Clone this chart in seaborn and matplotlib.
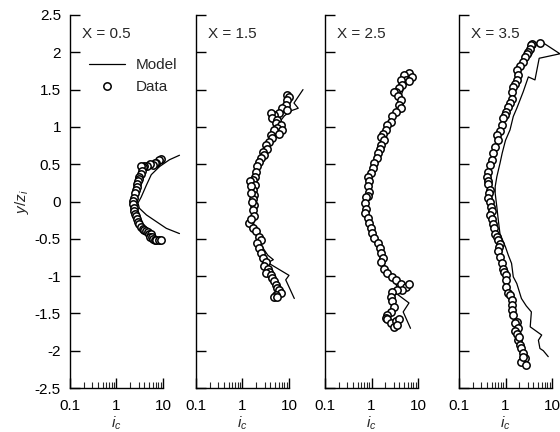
import numpy as np
import pandas as pd
import matplotlib
matplotlib.use("Agg")
import matplotlib.pyplot as plt
import seaborn as sns
from matplotlib.ticker import FixedLocator, FuncFormatter, LogLocator, NullFormatter, MultipleLocator
from matplotlib.lines import Line2D

# ---------------- data ----------------
panel_titles = ["X = 0.5", "X = 1.5", "X = 2.5", "X = 3.5"]
x_tick_vals = [0.1, 1, 10]
x_tick_labels = ["0.1", "1", "10"]

# X = 0.5
data_x_05 = [9.2, 8.2, 7.2, 6.6, 6.1, 5.2, 4.6, 4.0, 3.7, 3.4, 3.6, 3.3, 3.1, 3.0, 2.9, 2.8, 2.7, 2.6,
             2.5, 2.35, 2.3, 2.3, 2.35, 2.4, 2.5, 2.6, 2.7, 2.9, 3.1, 3.4, 3.7, 4.0, 4.4, 4.7, 5.1,
             5.6, 5.2, 5.8, 6.1, 6.6, 7.2, 8.2, 9.2]
data_y_05 = [0.57, 0.55, 0.52, 0.51, 0.49, 0.50, 0.48, 0.47, 0.46, 0.47, 0.41, 0.37, 0.33, 0.30, 0.27,
             0.23, 0.20, 0.15, 0.11, 0.05, 0.01, -0.04, -0.09, -0.13, -0.17, -0.20, -0.23, -0.27,
             -0.30, -0.34, -0.37, -0.38, -0.39, -0.41, -0.43, -0.44, -0.48, -0.47, -0.50, -0.51,
             -0.52, -0.52, -0.52]
model_x_05 = [22.6, 13.8, 8.5, 5.6, 4.4, 3.4, 2.9, 3.1, 4.4, 7.2, 11.8, 22.6]
model_y_05 = [0.62, 0.56, 0.47, 0.36, 0.22, 0.06, -0.02, -0.09, -0.18, -0.27, -0.36, -0.43]

# X = 1.5
data_x_15 = [9.2, 10.0, 9.0, 8.5, 7.2, 9.2, 6.1, 4.8, 4.1, 4.4, 5.6, 5.2, 6.6, 5.6, 7.2, 4.8, 6.1, 4.1,
             4.4, 3.7, 3.2, 3.4, 2.7, 2.9, 2.5, 2.3, 2.1, 2.0, 1.85, 1.65, 1.45, 1.85, 1.65, 1.5,
             1.8, 1.65, 1.55, 1.8, 1.65, 1.6, 1.8, 1.4, 1.5, 1.65, 2.0, 2.3, 2.5, 2.1, 2.3, 2.5,
             2.7, 3.2, 2.9, 3.5, 3.7, 3.2, 4.1, 4.4, 4.8, 5.2, 5.6, 6.1, 6.6, 5.2, 4.8, 5.6]
data_y_15 = [1.43, 1.40, 1.36, 1.29, 1.25, 1.23, 1.18, 1.16, 1.18, 1.12, 1.09, 1.05, 1.03, 0.98, 0.96,
             0.96, 0.91, 0.89, 0.85, 0.80, 0.76, 0.71, 0.67, 0.63, 0.58, 0.53, 0.47, 0.40, 0.33,
             0.29, 0.27, 0.22, 0.16, 0.21, 0.09, 0.04, 0.12, -0.05, -0.11, 0.00, -0.20, -0.29,
             -0.24, -0.36, -0.40, -0.47, -0.52, -0.56, -0.63, -0.69, -0.76, -0.81, -0.87, -0.90,
             -0.94, -0.96, -0.99, -1.03, -1.07, -1.12, -1.16, -1.19, -1.23, -1.25, -1.28, -1.28]
model_x_15 = [20, 12.8, 15.8, 11.5, 8, 6, 5, 3.8, 3, 2.4, 2, 1.75, 1.6, 1.55, 1.6, 1.75, 2.1, 2.6,
              3.5, 4.6, 3.5, 10, 8.5, 13]
model_y_15 = [1.5, 1.32, 1.25, 1.22, 1.15, 1.05, 0.95, 0.85, 0.75, 0.6, 0.45, 0.3, 0.15, 0.0, -0.15,
              -0.3, -0.45, -0.6, -0.72, -0.78, -0.82, -0.99, -1.05, -1.3]

# X = 2.5
data_x_25 = [6.4, 7.6, 5.0, 5.5, 4.3, 6.4, 4.6, 3.9, 3.4, 3.1, 3.7, 4.3, 3.9, 4.3, 3.4, 2.8, 2.6, 2.2,
             2.1, 1.75, 1.6, 1.9, 1.6, 1.5, 1.37, 1.3, 1.16, 1.1, 0.98, 0.83, 0.88, 0.83, 0.9, 0.83,
             0.77, 0.71, 0.77, 0.71, 0.83, 0.9, 0.98, 1.05, 1.16, 1.37, 1.5, 1.6, 1.75, 1.6, 1.9,
             2.2, 2.8, 3.4, 4.3, 5.5, 6.5, 4.6, 3.6, 2.8, 2.6, 2.8, 3.1, 2.6, 2.2, 2.1, 2.2, 2.6,
             3.4, 3.9, 3.1, 3.6]
data_y_25 = [1.72, 1.67, 1.70, 1.63, 1.63, 1.61, 1.56, 1.52, 1.47, 1.47, 1.42, 1.36, 1.29, 1.25,
             1.20, 1.14, 1.07, 1.03, 0.96, 0.91, 0.87, 0.82, 0.76, 0.71, 0.65, 0.58, 0.51, 0.45,
             0.38, 0.33, 0.27, 0.21, 0.13, 0.07, 0.06, -0.02, -0.10, -0.16, -0.22, -0.29, -0.36,
             -0.42, -0.49, -0.56, -0.63, -0.69, -0.76, -0.81, -0.90, -0.96, -1.01, -1.05, -1.10,
             -1.14, -1.10, -1.19, -1.19, -1.21, -1.28, -1.34, -1.41, -1.48, -1.52, -1.56, -1.57,
             -1.63, -1.60, -1.57, -1.68, -1.65]
model_x_25 = [7.5, 5.5, 4.5, 4.0, 4.2, 3.2, 2.7, 2.0, 1.5, 1.15, 0.95, 0.85, 0.8, 0.85, 0.95, 1.2,
              1.45, 1.7, 2.2, 3.0, 3.6, 3.2, 6.4, 4.8, 6.9]
model_y_25 = [1.75, 1.6, 1.45, 1.3, 1.2, 1.15, 1.05, 0.9, 0.75, 0.55, 0.35, 0.15, 0.0, -0.15, -0.3,
              -0.45, -0.6, -0.8, -0.92, -1.05, -1.15, -1.22, -1.36, -1.48, -1.7]

# X = 3.5
data_x_35 = [5.5, 3.8, 3.6, 3.4, 3.1, 2.9, 2.6, 2.4, 2.05, 1.75, 1.9, 1.75, 1.6, 1.47, 1.36, 1.4, 1.25,
             1.15, 1.05, 0.97, 0.9, 0.83, 0.77, 0.65, 0.7, 0.6, 0.55, 0.52, 0.46, 0.43, 0.40, 0.42,
             0.43, 0.46, 0.44, 0.43, 0.46, 0.48, 0.5, 0.46, 0.5, 0.54, 0.57, 0.6, 0.65, 0.7, 0.76,
             0.72, 0.7, 0.77, 0.83, 0.9, 0.95, 1.0, 1.05, 1.0, 1.12, 1.25, 1.35, 1.35, 1.4, 1.47,
             1.75, 1.6, 1.9, 1.6, 1.75, 1.85, 2.0, 2.05, 2.2, 2.4, 2.6, 2.2, 2.75, 2.4]
data_y_35 = [2.13, 2.11, 2.10, 2.05, 2.01, 1.98, 1.94, 1.87, 1.81, 1.76, 1.70, 1.63, 1.58, 1.54,
             1.47, 1.37, 1.32, 1.27, 1.20, 1.16, 1.12, 1.03, 0.94, 0.89, 0.82, 0.73, 0.65, 0.56,
             0.49, 0.40, 0.33, 0.28, 0.24, 0.16, 0.11, 0.05, 0.0, -0.07, -0.13, -0.18, -0.23,
             -0.30, -0.36, -0.43, -0.48, -0.52, -0.57, -0.61, -0.67, -0.75, -0.83, -0.90, -0.95,
             -0.99, -1.05, -1.14, -1.23, -1.25, -1.32, -1.39, -1.46, -1.52, -1.61, -1.63, -1.69,
             -1.74, -1.77, -1.86, -1.82, -1.92, -1.97, -2.03, -2.10, -2.15, -2.19, -2.08]
model_x_35 = [6.0, 14.8, 5.3, 4.3, 3.1, 2.4, 1.75, 1.47, 1.25, 1.0, 0.85, 0.76, 0.65, 0.6, 0.6, 0.65,
              0.7, 0.76, 0.83, 1.0, 1.15, 1.35, 1.47, 1.75, 2.2, 2.8, 3.6, 3.4, 6.0, 5.1, 5.5, 6.5, 8.3]
model_y_35 = [2.14, 1.98, 1.92, 1.63, 1.67, 1.47, 1.25, 1.14, 0.96, 0.82, 0.65, 0.51, 0.33, 0.2, 0.11,
              -0.07, -0.25, -0.43, -0.49, -0.61, -0.72, -0.83, -1.01, -1.10, -1.30, -1.40, -1.48,
              -1.68, -1.79, -1.86, -1.97, -2.0, -2.08]

panels = [
    (data_x_05, data_y_05, model_x_05, model_y_05),
    (data_x_15, data_y_15, model_x_15, model_y_15),
    (data_x_25, data_y_25, model_x_25, model_y_25),
    (data_x_35, data_y_35, model_x_35, model_y_35),
]

# ---------------- style ----------------
sns.set_style("ticks")
plt.rcParams["font.family"] = ["Liberation Sans", "DejaVu Sans"]
plt.rcParams["axes.unicode_minus"] = False
plt.rcParams["mathtext.fontset"] = "custom"
plt.rcParams["mathtext.rm"] = "Liberation Sans"
plt.rcParams["mathtext.it"] = "Liberation Sans:italic"
FS = 11

fig = plt.figure(figsize=(5.6, 4.32), dpi=100)
lefts = [70, 196, 325, 459]
W, H = 560.0, 432.0
bottom = 1 - 388 / H
height = 373 / H
width = 93 / W

for i, (dx, dy, mx, my) in enumerate(panels):
    ax = fig.add_axes([lefts[i] / W, bottom, width, height])
    ax.set_xscale("log")
    mdf = pd.DataFrame({"x": mx, "y": my})
    ddf = pd.DataFrame({"x": dx, "y": dy})
    sns.lineplot(data=mdf, x="x", y="y", sort=False, estimator=None, color="black",
                 linewidth=0.9, ax=ax, clip_on=False, zorder=2)
    sns.scatterplot(data=ddf, x="x", y="y", marker="o", s=28, facecolor="white",
                    edgecolor="black", linewidth=1.1, ax=ax, clip_on=False, zorder=3)
    ax.set_xlim(0.1, 10)
    ax.set_ylim(-2.5, 2.5)
    for s in ["top", "right"]:
        ax.spines[s].set_visible(False)
    for s in ["left", "bottom"]:
        ax.spines[s].set_linewidth(1.0)
        ax.spines[s].set_color("black")
    ax.xaxis.set_major_locator(FixedLocator(x_tick_vals))
    ax.set_xticklabels(x_tick_labels)
    ax.xaxis.set_minor_locator(LogLocator(base=10, subs=np.arange(2, 10)))
    ax.xaxis.set_minor_formatter(NullFormatter())
    ax.yaxis.set_major_locator(MultipleLocator(0.5))
    ax.yaxis.set_major_formatter(FuncFormatter(lambda v, p: f"{v:g}"))
    ax.tick_params(axis="both", which="major", direction="in", length=7, width=1.0,
                   labelsize=FS, colors="black")
    ax.tick_params(axis="x", which="major", pad=8)
    ax.tick_params(axis="y", which="major", pad=6.5)
    ax.tick_params(axis="x", which="minor", direction="in", length=4, width=0.8)
    if i > 0:
        ax.tick_params(axis="y", labelleft=False)
        ax.set_ylabel("")
    else:
        ax.set_ylabel("$y/z_i$", fontsize=FS, labelpad=3)
    ax.set_xlabel("$i_c$", fontsize=FS, labelpad=1)
    ax.text(0.13, 0.949, panel_titles[i], transform=ax.transAxes, fontsize=FS,
            ha="left", va="center")
    ax.set_facecolor("white")
    if ax.get_legend() is not None:
        ax.get_legend().remove()
    if i == 0:
        handles = [Line2D([], [], color="black", linewidth=0.9),
                   Line2D([], [], marker="o", linestyle="none", markersize=5.3,
                          markerfacecolor="white", markeredgecolor="black", markeredgewidth=1.1)]
        ax.legend(handles, ["Model", "Data"], frameon=False, loc="upper left",
                  bbox_to_anchor=(0.2, 0.885), borderpad=0, handlelength=2.4,
                  handletextpad=0.7, labelspacing=0.55, fontsize=FS, borderaxespad=0)

fig.savefig("out.png", dpi=100, facecolor="white")
